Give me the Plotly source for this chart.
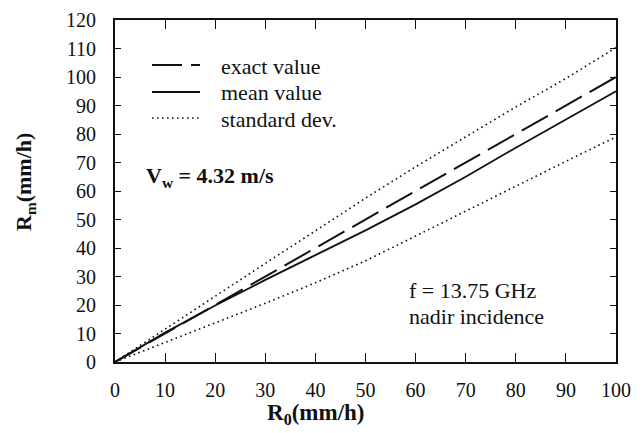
import plotly.graph_objects as go

# Data
r0 = [0, 10, 20, 30, 40, 50, 60, 70, 80, 90, 100]
exact_value = [0, 10, 20, 30, 40, 50, 60, 70, 80, 90, 100]
mean_value = [0, 10.3, 19.8, 28.8, 37.5, 46.2, 55.3, 65.0, 75.2, 85.0, 95.0]
std_upper = [0, 11.6, 23.2, 34.6, 46.0, 57.5, 68.5, 79.0, 89.5, 99.5, 110.3]
std_lower = [0, 6.8, 13.6, 20.6, 27.8, 35.5, 44.2, 53.0, 61.7, 70.4, 79.0]

x_ticks = [0, 10, 20, 30, 40, 50, 60, 70, 80, 90, 100]
y_ticks = [0, 10, 20, 30, 40, 50, 60, 70, 80, 90, 100, 110, 120]

legend_labels = ["exact value", "mean value", "standard dev."]

FONT = "Liberation Serif"
INK = "#111111"
DASH = "30px,9px"
DOT = "1.6px,3.4px"

fig = go.Figure()
fig.add_trace(go.Scatter(x=r0, y=exact_value, mode="lines", name=legend_labels[0],
                         line=dict(color=INK, width=2, dash=DASH)))
fig.add_trace(go.Scatter(x=r0, y=mean_value, mode="lines", name=legend_labels[1],
                         line=dict(color=INK, width=1.8)))
fig.add_trace(go.Scatter(x=r0, y=std_upper, mode="lines", name=legend_labels[2],
                         line=dict(color=INK, width=1.6, dash=DOT)))
fig.add_trace(go.Scatter(x=r0, y=std_lower, mode="lines", name=legend_labels[2] + " (lower)",
                         line=dict(color=INK, width=1.6, dash=DOT)))

# Full-window figure; the page's default body margin is removed in post_script.
W, H = 643, 433
PL, PR, PT, PB = 115, 616, 20, 362          # plot box in window pixels
L, T = PL, PT
R, B = W - PR, H - PB
pw, ph = W - L - R, H - T - B


def px(xp):
    return (xp - L) / pw


def py(yp):
    return (H - B - yp) / ph


def note(x, y, text, size=22, xanchor="left", angle=0):
    fig.add_annotation(xref="paper", yref="paper", x=px(x), y=py(y), text=text,
                       showarrow=False, xanchor=xanchor, yanchor="middle",
                       textangle=angle, font=dict(family=FONT, size=size, color=INK))


# Hand-drawn legend (sample lines + labels)
legend_rows = [(65, dict(color=INK, width=2, dash=DASH)),
               (92, dict(color=INK, width=1.8)),
               (118, dict(color=INK, width=1.6, dash=DOT))]
for (yy, ln), lab in zip(legend_rows, legend_labels):
    fig.add_shape(type="line", xref="paper", yref="paper",
                  x0=px(152), x1=px(200), y0=py(yy), y1=py(yy), line=ln)
    note(219, yy + 1, lab)

note(144, 177, "<b>V<sub>w</sub> = 4.32 m/s</b>")
note(407, 290, "f = 13.75 GHz")
note(407, 316, "nadir incidence")

# Axis titles (placed as in the reference)
note(316, 414, "<b>R<sub>0</sub>(mm/h)</b>", size=23, xanchor="center")
note(25, 182, "<b>R<sub>m</sub>(mm/h)</b>", size=22, xanchor="center", angle=-90)

axis_common = dict(showgrid=False, zeroline=False, showline=True, linecolor=INK,
                   linewidth=2, mirror="allticks", ticks="inside", tickcolor=INK,
                   tickwidth=1.2, tickfont=dict(family=FONT, size=20, color=INK))

fig.update_xaxes(range=[0, 100], tickvals=x_ticks, ticklen=9,
                 ticklabelstandoff=9, **axis_common)
fig.update_yaxes(range=[0, 120], tickvals=y_ticks, ticklen=6,
                 ticklabelstandoff=13, **axis_common)

fig.update_layout(width=W, height=H, margin=dict(l=L, r=R, t=T, b=B, autoexpand=False),
                  paper_bgcolor="white", plot_bgcolor="white", showlegend=False,
                  font=dict(family=FONT, color=INK))

fig.write_html("out.html",
               config={"displayModeBar": False},
               post_script="document.body.style.margin='0';"
                           "document.body.style.overflow='hidden';")
